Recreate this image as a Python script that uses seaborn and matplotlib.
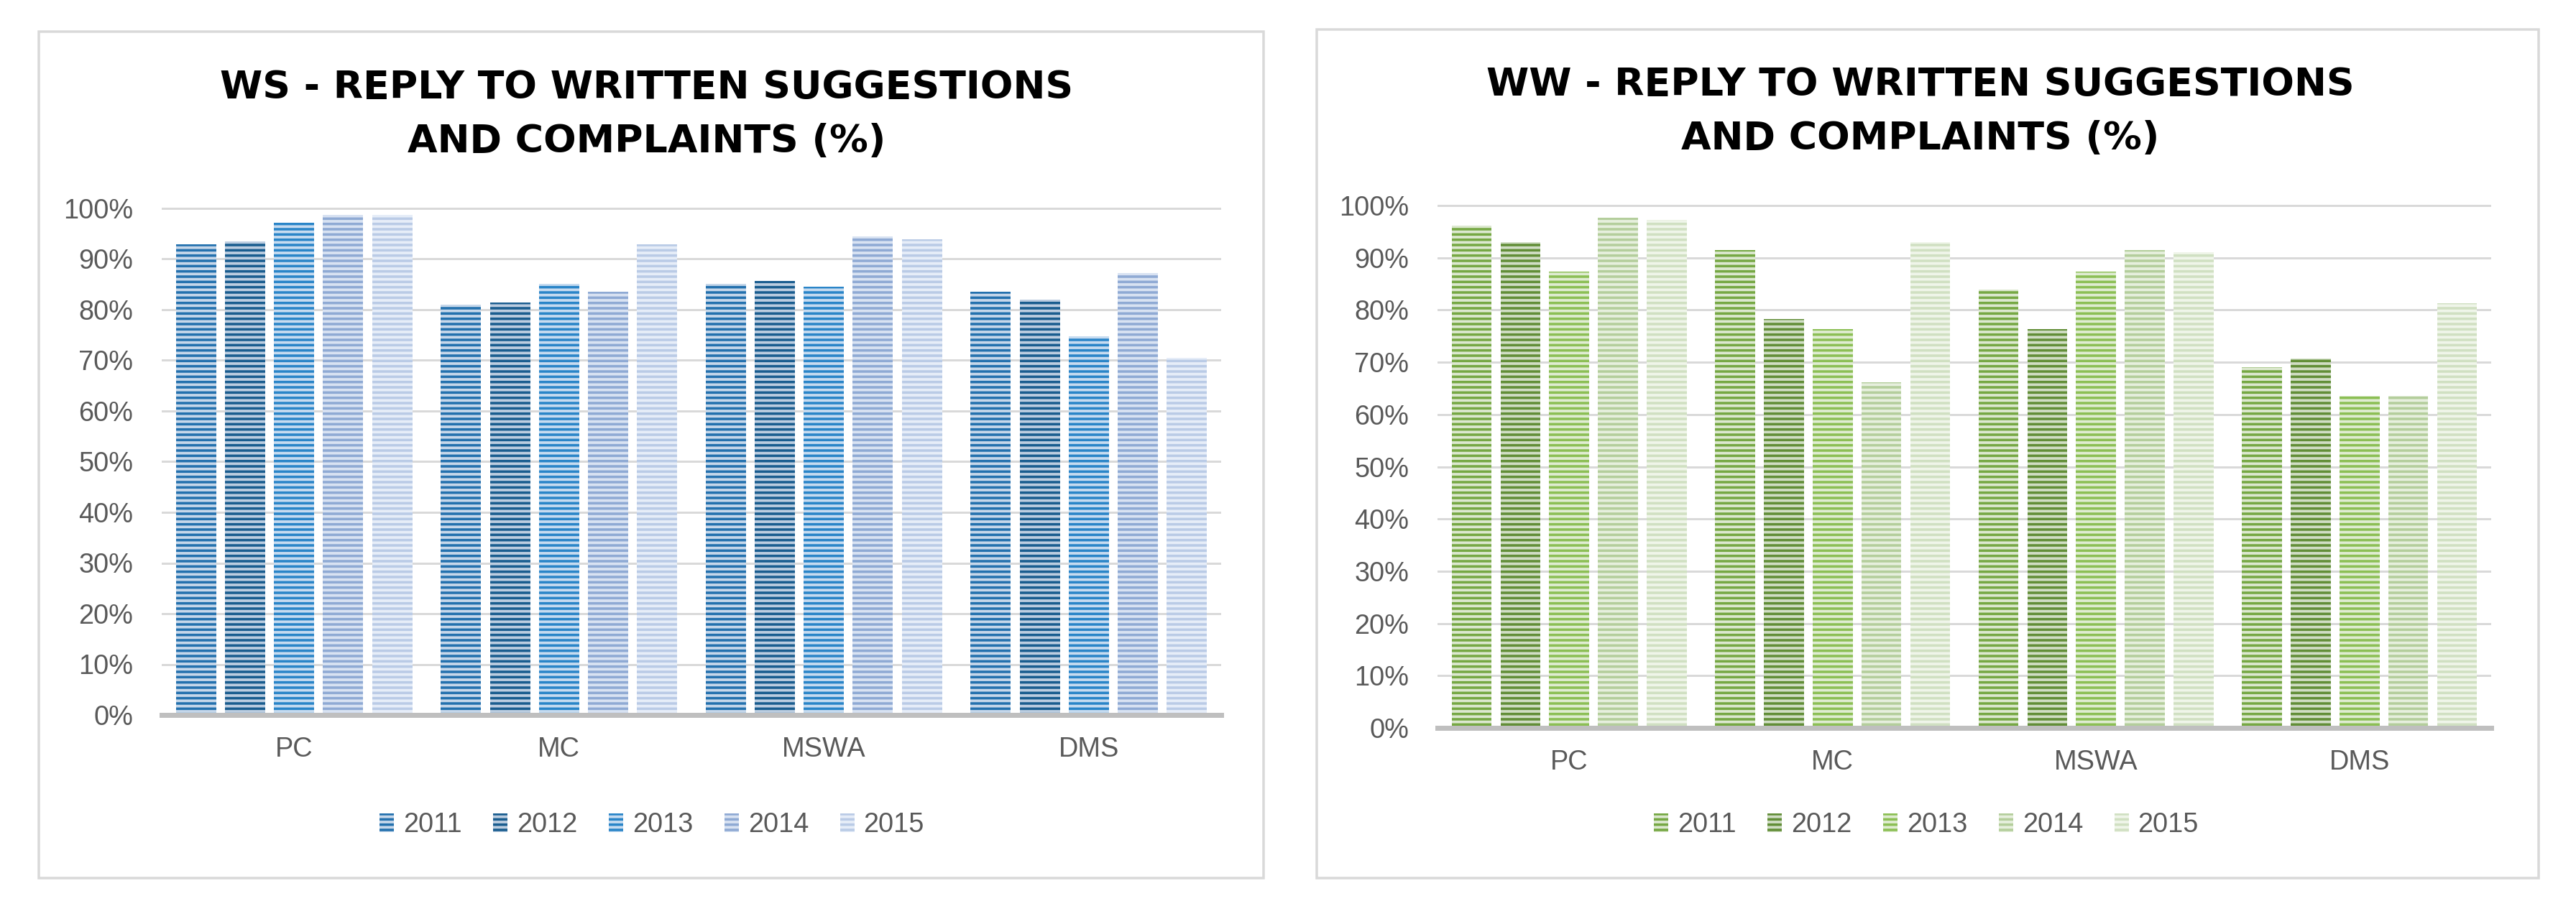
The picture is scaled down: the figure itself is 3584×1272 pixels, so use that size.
import matplotlib
matplotlib.use("Agg")
import matplotlib.pyplot as plt
import matplotlib.patches as mpatches
from matplotlib.ticker import PercentFormatter, MultipleLocator
import seaborn as sns
import pandas as pd

# ---------------- data ----------------
orgs = ["PC", "MC", "MSWA", "DMS"]
years = ["2011", "2012", "2013", "2014", "2015"]

ws_2011 = [92.9, 81.0, 85.1, 83.5]
ws_2012 = [93.5, 81.4, 85.7, 82.0]
ws_2013 = [97.2, 85.1, 84.5, 74.7]
ws_2014 = [98.7, 83.5, 94.5, 87.2]
ws_2015 = [98.7, 92.9, 93.9, 70.5]

ww_2011 = [96.1, 91.5, 83.9, 69.1]
ww_2012 = [93.0, 78.3, 76.3, 70.7]
ww_2013 = [87.4, 76.3, 87.4, 63.6]
ww_2014 = [97.6, 66.1, 91.5, 63.6]
ww_2015 = [97.2, 93.0, 91.0, 81.3]

ws_title = ["WS - REPLY TO WRITTEN SUGGESTIONS", "AND COMPLAINTS (%)"]
ww_title = ["WW - REPLY TO WRITTEN SUGGESTIONS", "AND COMPLAINTS (%)"]

# stripe colours (face = light stripe, edge/hatch = dark stripe)
blue_dark = ["#2471AE", "#1A5D8F", "#2A85C8", "#8FAAD4", "#BACBE6"]
blue_light = ["#C6D7EA", "#BCCDE0", "#C6DBF0", "#D8E2F2", "#E6EDF8"]
green_dark = ["#76A844", "#628E38", "#8CBF55", "#B4CE9C", "#D0E0C2"]
green_light = ["#DCE8CF", "#D0DDC4", "#DFECD1", "#E6EFDD", "#EFF5E9"]


def build_frame(series):
    rows = []
    for yr, vals in zip(years, series):
        for org, v in zip(orgs, vals):
            rows.append({"org": org, "year": yr, "value": v / 100.0})
    return pd.DataFrame(rows)


ws_df = build_frame([ws_2011, ws_2012, ws_2013, ws_2014, ws_2015])
ww_df = build_frame([ww_2011, ww_2012, ww_2013, ww_2014, ww_2015])

# ---------------- figure ----------------
W, H, DPI = 3584, 1272, 88
sns.set_theme(style="white")
plt.rcParams["font.family"] = ["Liberation Sans", "DejaVu Sans"]
plt.rcParams["hatch.linewidth"] = 2.9

fig = plt.figure(figsize=(W / DPI, H / DPI), dpi=DPI)
fig.patch.set_facecolor("white")

px2pt = 72.0 / DPI
TXT = "#595959"
FS = 31


def fx(x):
    return x / W


def fy(y):
    return 1 - y / H


def make_panel(df, light, dark, left, right, y0, y100, frame, title, title_x, title_y, leg_x, leg_y):
    # frame around the panel
    fx0, fy0, fx1, fy1 = frame
    fig.patches.append(mpatches.Rectangle((fx(fx0), fy(fy1)), fx(fx1 - fx0), (fy1 - fy0) / H,
                                          transform=fig.transFigure, fill=False,
                                          edgecolor="#D9D9D9", linewidth=3.5 * px2pt, zorder=0))
    top_val = 1.02
    span = y0 - y100
    ytop = y100 - (top_val - 1.0) * span
    ax = fig.add_axes([fx(left), fy(y0), fx(right - left), (y0 - ytop) / H])
    sns.barplot(data=df, x="org", y="value", hue="year", order=orgs, hue_order=years,
                palette=light, width=0.925, gap=0.18, ax=ax, legend=False, errorbar=None,
                saturation=1)
    for cont, dc in zip(ax.containers, dark):
        for p in cont:
            p.set_hatch("--")
            p.set_edgecolor(dc)
            p.set_linewidth(0)
    ax.set_ylim(0, top_val)
    ax.set_xlim(-0.5, 3.5)
    ax.yaxis.set_major_locator(MultipleLocator(0.1))
    ax.yaxis.set_major_formatter(PercentFormatter(1.0, decimals=0))
    ax.set_axisbelow(True)
    ax.grid(axis="y", color="#D9D9D9", linewidth=3.0 * px2pt)
    ax.grid(axis="x", visible=False)
    for s in ["left", "top", "right"]:
        ax.spines[s].set_visible(False)
    ax.spines["bottom"].set_color("#BFBFBF")
    ax.spines["bottom"].set_linewidth(7 * px2pt)
    ax.tick_params(axis="y", length=0, pad=40 * px2pt, labelsize=FS, labelcolor=TXT)
    ax.tick_params(axis="x", length=0, pad=30 * px2pt, labelsize=FS, labelcolor=TXT)
    ax.set_xlabel("")
    ax.set_ylabel("")
    ax.set_facecolor("white")
    # title
    for line, ty in zip(title, title_y):
        fig.text(fx(title_x), fy(ty), line, ha="center", va="center",
                 fontsize=44, fontweight="bold", color="black", family=["DejaVu Sans"])
    # legend
    ax.legend(ax.containers, years, loc="center", bbox_to_anchor=(fx(leg_x), fy(leg_y)),
              bbox_transform=fig.transFigure, ncol=5, frameon=False, fontsize=FS,
              handlelength=0.53, handleheight=0.68, handletextpad=0.34,
              columnspacing=1.15, labelcolor=TXT, borderaxespad=0)
    return ax


make_panel(ws_df, blue_light, blue_dark, 225, 1699, 995, 290,
           (54, 44, 1758, 1222), ws_title, 900, (122, 197), 907, 1148)
make_panel(ww_df, green_light, green_dark, 2000, 3466, 1013, 286,
           (1832, 41, 3532, 1222), ww_title, 2672, (118, 193), 2680, 1148)

fig.savefig("out.png", dpi=DPI, facecolor="white")
